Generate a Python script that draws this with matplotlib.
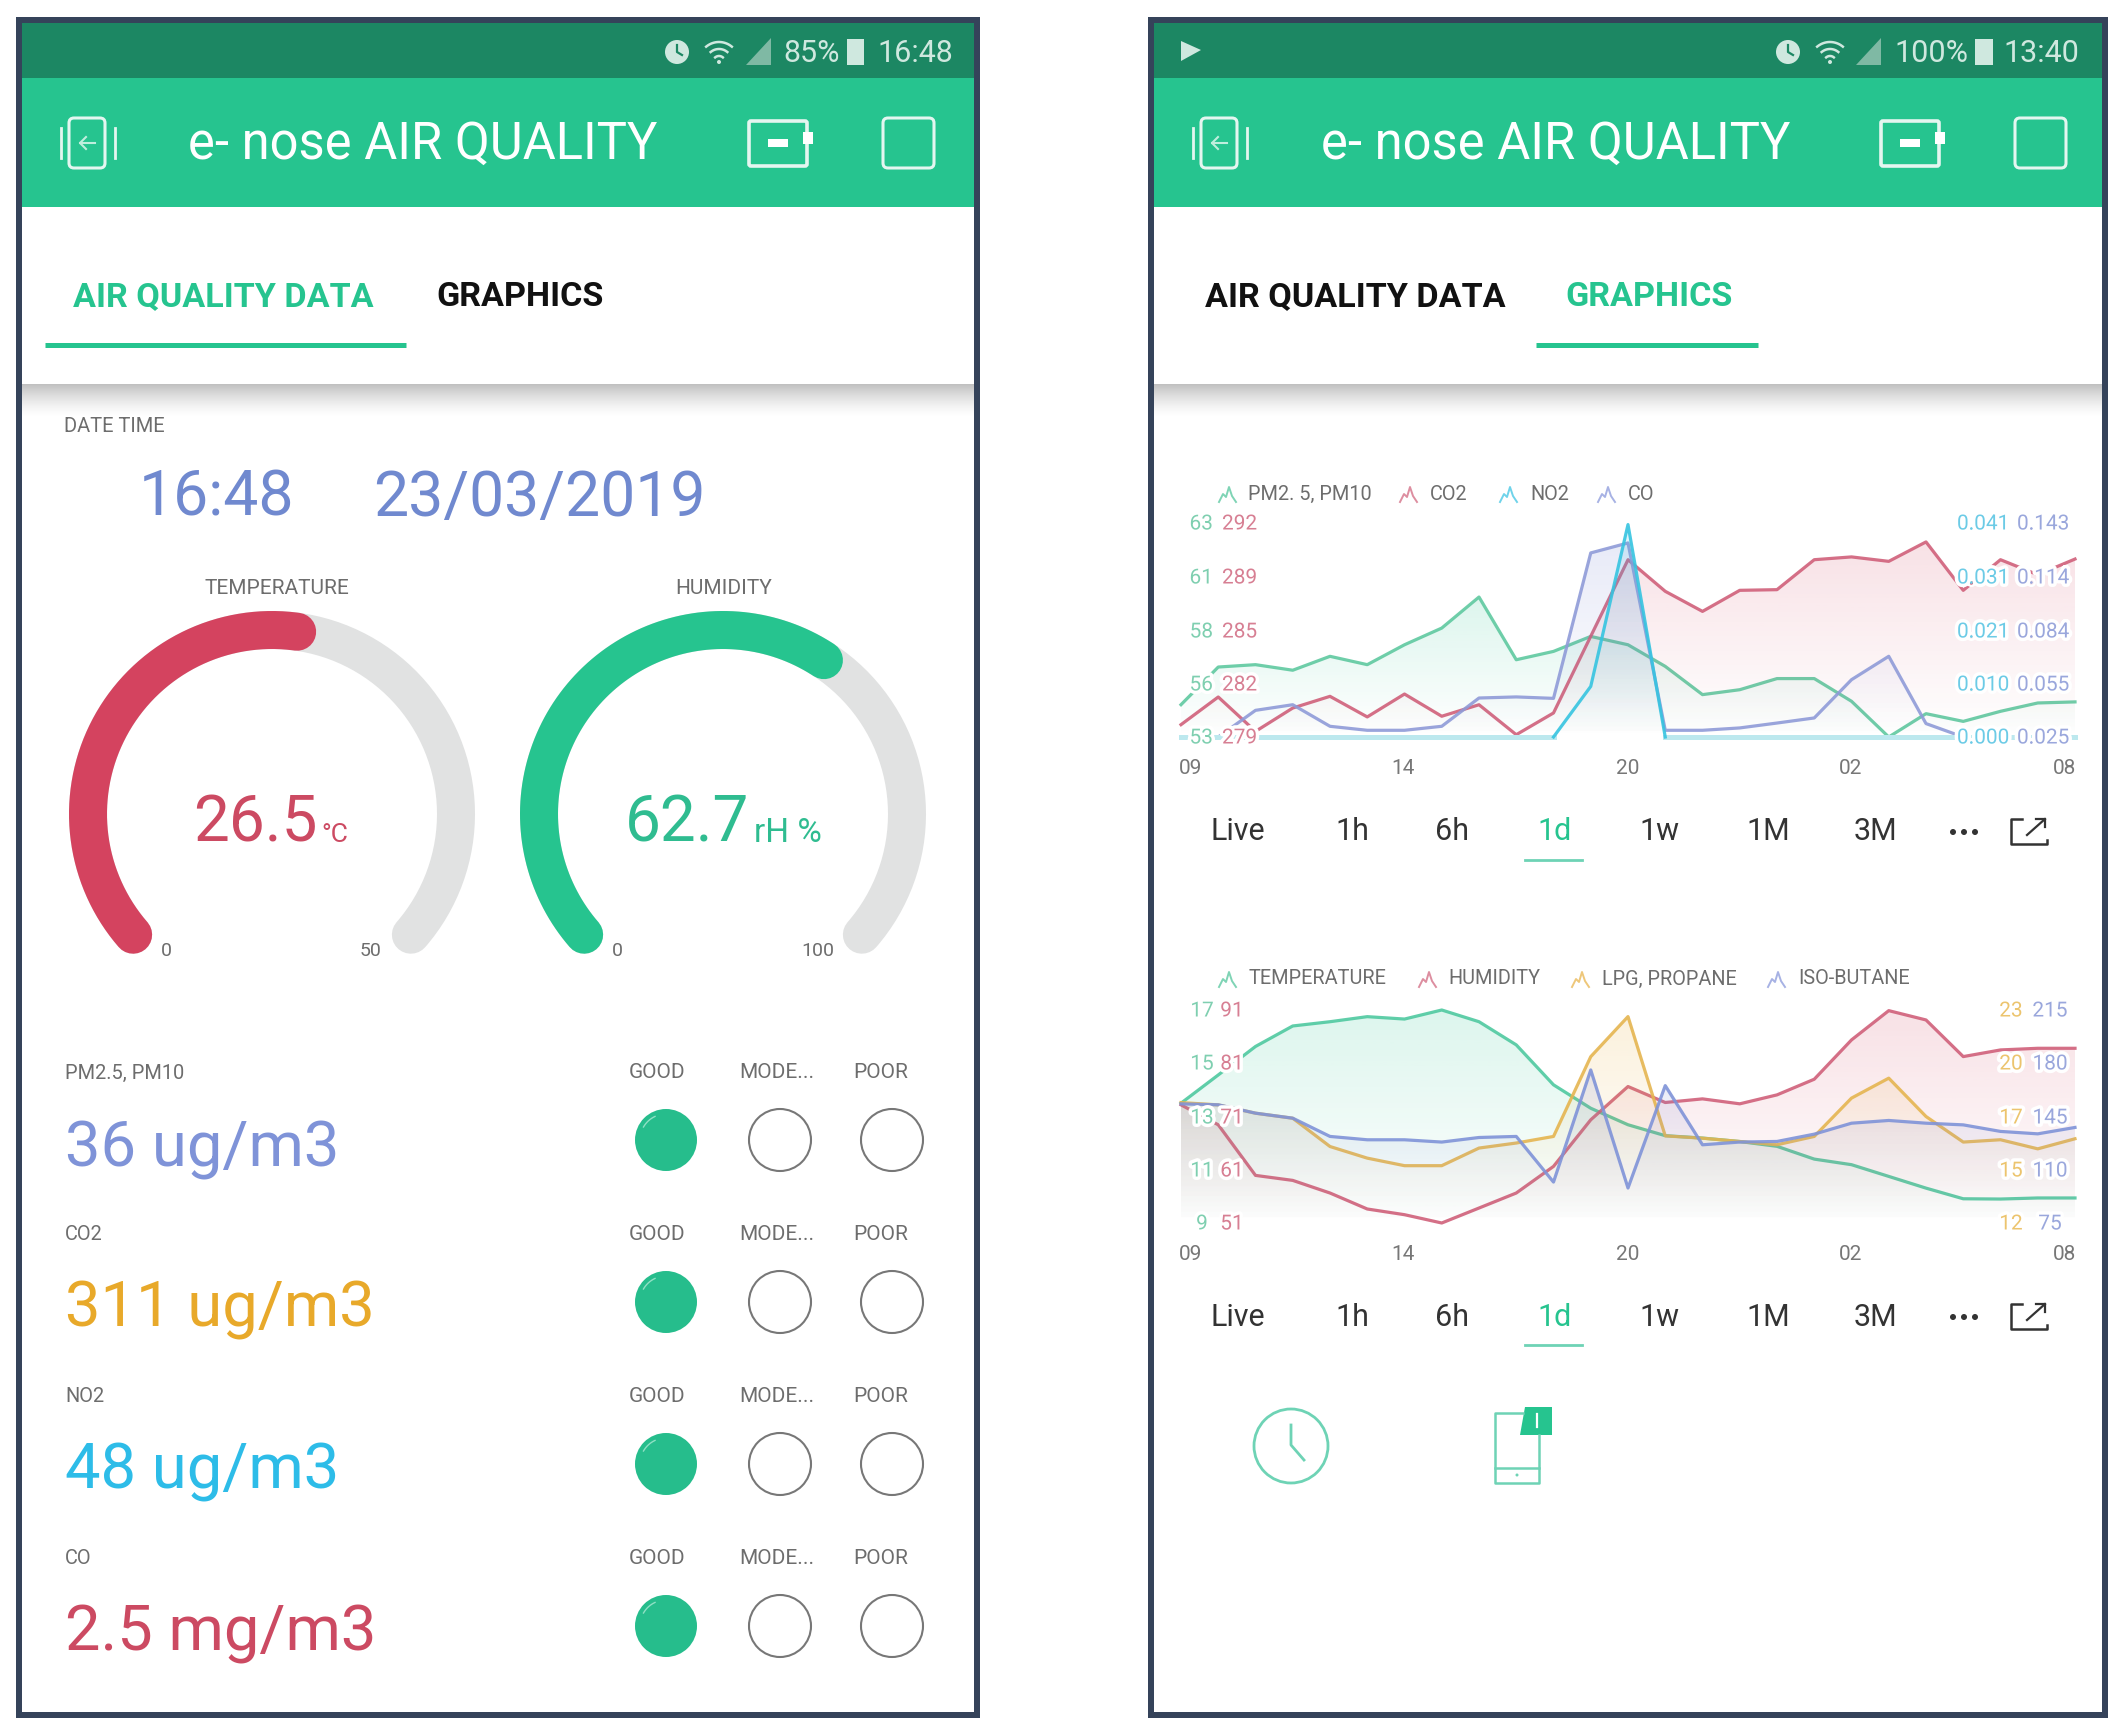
import numpy as np
import matplotlib
matplotlib.use('Agg')
import matplotlib.pyplot as plt
import matplotlib.patheffects as pe
from matplotlib.patches import Rectangle, Circle, FancyBboxPatch, Polygon
from matplotlib.colors import to_rgb

# first chart, one scale per series
hours = np.arange(25)
pm = [54.51, 56.27, 56.38, 56.12, 56.77, 56.38, 57.31, 58.09, 59.54, 56.61, 57.0, 57.7, 57.31,
      56.3, 54.98, 55.21, 55.73, 55.73, 54.67, 53.0, 54.09, 53.73, 54.2, 54.59, 54.64]
co2 = [279.75, 281.43, 279.34, 280.76, 281.47, 280.22, 281.61, 280.26, 280.96, 279.14, 280.46, 285.12, 289.77,
       287.85, 286.63, 287.91, 287.95, 289.77, 289.94, 289.67, 290.85, 287.91, 289.77, 288.86, 289.81]
no2 = [0, 0, 0, 0, 0, 0, 0, 0, 0, 0, 0, 0.0097, 0.0407, 0, 0, 0, 0, 0, 0, 0, 0, 0, 0, 0, 0]
co = [0.025, 0.025, 0.0397, 0.0428, 0.0309, 0.0287, 0.0287, 0.0309, 0.0465, 0.0471, 0.0463, 0.1265, 0.132,
      0.0287, 0.0287, 0.030, 0.0327, 0.0355, 0.0566, 0.0695, 0.0324, 0.025, 0.025, 0.025, 0.025]

# second chart
temperature = [13.5, 14.56, 15.63, 16.4, 16.56, 16.75, 16.66, 17.0, 16.56, 15.69, 14.19, 13.31, 12.69,
               12.28, 12.19, 12.06, 11.88, 11.4, 11.19, 10.75, 10.31, 9.91, 9.9, 9.94, 9.94]
humidity = [73.19, 69.44, 59.94, 59.0, 56.63, 53.63, 52.56, 51.0, 53.81, 56.63, 61.63, 70.38, 76.63,
            73.63, 74.31, 73.38, 75.06, 78.0, 85.38, 90.88, 89.13, 82.25, 83.5, 83.81, 83.81]
lpg = [18.22, 18.1, 17.67, 17.41, 15.95, 15.35, 14.96, 14.96, 15.87, 16.13, 16.47, 20.59, 22.66,
       16.5, 16.38, 16.21, 16.04, 16.47, 18.45, 19.48, 17.5, 16.18, 16.3, 15.83, 16.35]
isobutane = [153.3, 152.7, 147.2, 143.9, 131.9, 129.7, 129.7, 128.2, 131.2, 131.9, 101.9, 175.6, 98.0,
             165.3, 126.4, 128.2, 128.6, 133.4, 140.6, 142.4, 140.6, 139.5, 135.2, 133.6, 137.8]

time_ticks = ['09', '14', '20', '02', '08']
ranges = ['Live', '1h', '6h', '1d', '1w', '1M', '3M']
pm_labels = ['63', '61', '58', '56', '53']
co2_labels = ['292', '289', '285', '282', '279']
no2_labels = ['0.041', '0.031', '0.021', '0.010', '0.000']
co_labels = ['0.143', '0.114', '0.084', '0.055', '0.025']
temp_labels = ['17', '15', '13', '11', '9']
hum_labels = ['91', '81', '71', '61', '51']
lpg_labels = ['23', '20', '17', '15', '12']
iso_labels = ['215', '180', '145', '110', '75']

temp_value, temp_max = 26.5, 50
hum_value, hum_max = 62.7, 100
sensors = ['PM2.5, PM10', 'CO2', 'NO2', 'CO']
readings = ['36 ug/m3', '311 ug/m3', '48 ug/m3', '2.5 mg/m3']

GREEN = '#26c48f'
DARK_GREEN = '#1c8763'
RED = '#d4435f'
BLUE = '#7f93d8'
CYAN = '#2dbce8'
YELLOW = '#e8a92a'
FRAME = '#35435a'
W, H = 2124, 1732

plt.rcParams['font.family'] = ['Roboto', 'DejaVu Sans']

fig = plt.figure(figsize=(W / 100, H / 100), dpi=100, facecolor='white')
bg = fig.add_axes([0, 0, 1, 1], zorder=0)
top = fig.add_axes([0, 0, 1, 1], zorder=5)
for a in (bg, top):
    a.set_xlim(0, W)
    a.set_ylim(H, 0)
    a.axis('off')
    a.patch.set_alpha(0)


def txt(x, y, s, size, color='#6d6d6d', ha='left', va='center', weight='normal', halo=False):
    if va == 'center':
        y = y + 3
    t = top.text(x, y, s, fontsize=size, color=color, ha=ha, va=va, fontweight=weight)
    if halo:
        t.set_path_effects([pe.withStroke(linewidth=5, foreground='white')])
    return t


def box(x0, y0, x1, y1, color):
    bg.add_patch(Rectangle((x0, y0), x1 - x0, y1 - y0, color=color, lw=0))


def outline(x0, y0, x1, y1, color='#e4f6f0', lw=2.2, pad=5):
    top.add_patch(FancyBboxPatch((x0 + pad, y0 + pad), x1 - x0 - 2 * pad, y1 - y0 - 2 * pad,
                                 boxstyle='round,pad=%d' % pad, fc='none', ec=color, lw=lw))


def phone(x0, x1, active):
    box(x0, 17, x1, 1718, FRAME)
    box(x0 + 6, 23, x1 - 6, 1712, 'white')
    box(x0 + 6, 23, x1 - 6, 78, DARK_GREEN)
    box(x0 + 6, 78, x1 - 6, 207, GREEN)
    # shadow under the tab bar
    grad = np.ones((40, 1, 4))
    grad[:, :, :3] = 0.62
    grad[:, 0, 3] = np.linspace(0.75, 0, 40) ** 1.5
    bg.imshow(grad, extent=(x0 + 6, x1 - 6, 418, 384), aspect='auto', zorder=2)
    bg.set_xlim(0, W)
    bg.set_ylim(H, 0)

    left = x0 + 6
    outline(left + 47, 118, left + 83, 168)
    top.plot([left + 39, left + 39], [128, 158], color='#e4f6f0', lw=2)
    top.plot([left + 93, left + 93], [128, 158], color='#e4f6f0', lw=2)
    top.plot([left + 58, left + 73], [143, 143], color='#bfeedd', lw=1.5)
    top.plot([left + 64, left + 58, left + 64], [137, 143, 149], color='#bfeedd', lw=1.5)
    outline(left + 727, 121, left + 785, 166, lw=2.6, pad=2)
    top.add_patch(Rectangle((left + 746, 139), 20, 8, color='white', lw=0))
    top.add_patch(Rectangle((left + 781, 132), 10, 12, color='white', lw=0))
    outline(left + 861, 118, left + 912, 168)

    tabs = [('AIR QUALITY DATA', left + 51), ('GRAPHICS', left + 414 if active == 0 else left + 411)]
    for i, (name, x) in enumerate(tabs):
        txt(x, 294, name, 24.6, GREEN if i == active else '#111111', weight='bold')


def gauge(cx, value, vmax, color):
    cy, r, start, sweep = 814, 184, 221, 262
    ang = np.radians(start - sweep * np.linspace(0, 1, 200))
    bg.plot(cx + r * np.cos(ang), cy - r * np.sin(ang), color='#e1e2e2', lw=38 * 0.72,
            solid_capstyle='round', zorder=3)
    ang = np.radians(start - sweep * value / vmax * np.linspace(0, 1, 200))
    bg.plot(cx + r * np.cos(ang), cy - r * np.sin(ang), color=color, lw=38 * 0.72,
            solid_capstyle='round', zorder=4)


def gradient_fill(ax, y, lo, color, alpha):
    y = np.asarray(y)
    grad = np.zeros((100, 1, 4))
    grad[:, :, :3] = to_rgb(color)
    grad[:, 0, 3] = np.linspace(alpha, 0, 100)
    im = ax.imshow(grad, extent=(0, 24, lo, y.max()), aspect='auto', zorder=1)
    verts = np.vstack([np.column_stack([hours, y]), [24, lo], [0, lo]])
    clip = Polygon(verts, closed=True, transform=ax.transData, fc='none', ec='none')
    ax.add_patch(clip)
    im.set_clip_path(clip)


def line_chart(x0, x1, y0, y1, series):
    axes = []
    for vals, lo, hi, color, line_color in series:
        ax = fig.add_axes([x0 / W, 1 - y1 / H, (x1 - x0) / W, (y1 - y0) / H], zorder=2)
        ax.axis('off')
        ax.patch.set_alpha(0)
        gradient_fill(ax, vals, lo, color, 0.16)
        ax.plot(hours, vals, color=line_color, lw=3.2 * 0.72, alpha=0.9, clip_on=False, zorder=3)
        ax.set_xlim(0, 24)
        ax.set_ylim(lo, hi)
        axes.append(ax)
    return axes


def legend_icon(x, y, color):
    top.plot(x + np.array([-9, -5, -2, 1, 4, 8]), y + np.array([9, 1, 4, -6, 3, 9]), color=color, lw=1.4)


def chart_text(y_rows, tick_y, legend_y, legend, columns):
    for x_icon, x_text, name, color in legend:
        legend_icon(x_icon, legend_y, color)
        txt(x_text, legend_y - 2, name, 14.3, '#6d6d6d')
    for x, ha, labels, color in columns:
        for y, s in zip(y_rows, labels):
            txt(x, y - 2, s, 15, color, ha=ha, halo=True)
    for x, s in zip([1191, 1403, 1628, 1851, 2065], time_ticks):
        txt(x, tick_y - 2, s, 15, '#777777', ha='center')


def range_row(y):
    for x, s in zip([1238, 1352, 1452, 1555, 1659, 1768, 1875], ranges):
        txt(x, y - 1, s, 22, GREEN if s == '1d' else '#333333', ha='center')
    bg.plot([1525, 1582], [y + 30, y + 30], color='#6ed3b5', lw=2)
    for dx in (-11, 0, 11):
        top.add_patch(Circle((1964 + dx, y + 2), 3, color='#333333', lw=0))
    top.plot([2022, 2011, 2011, 2047, 2047], [y - 11, y - 11, y + 14, y + 14, y + 10], color='#333333', lw=1.8)
    top.plot([2027, 2045], [y + 5, y - 11], color='#333333', lw=1.6)
    top.plot([2036, 2045, 2045], [y - 11, y - 11, y - 3], color='#333333', lw=1.6)


def status_icons(alarm_x, wifi_x, signal_x):
    c = '#cfe8df'
    top.add_patch(Circle((alarm_x, 52), 12, color=c, lw=0))
    top.plot([alarm_x, alarm_x, alarm_x + 5], [45, 52, 55], color=DARK_GREEN, lw=1.6)
    for r in (6, 13, 20):
        ang = np.radians(np.linspace(50, 130, 20))
        top.plot(wifi_x + r * np.cos(ang), 62 - r * np.sin(ang), color=c, lw=1.8)
    top.add_patch(Circle((wifi_x, 62), 2, color=c, lw=0))
    top.add_patch(Polygon([[signal_x - 13, 65], [signal_x + 12, 65], [signal_x + 12, 38]], color='#7fb9a4', lw=0))


# left phone
phone(16, 980, 0)
bg.plot([45, 406], [344.5, 344.5], color=GREEN, lw=3.6, solid_capstyle='butt')
status_icons(677, 719, 759)
txt(783, 50, '85%', 22, '#cfe8df')
top.add_patch(Rectangle((847, 39), 17, 26, color='#cfe8df', lw=0))
txt(877, 50, '16:48', 22, '#cfe8df')
txt(188, 142, 'e- nose AIR QUALITY', 36.5, 'white')
txt(64, 423, 'DATE TIME', 14.5)
txt(139, 516, '16:48', 45, '#7089cf', va='baseline')
txt(373, 516, '23/03/2019', 45, '#7089cf', va='baseline')

txt(277, 585, 'TEMPERATURE', 15, ha='center')
txt(724, 585, 'HUMIDITY', 15, ha='center')
gauge(272, temp_value, temp_max, RED)
gauge(723, hum_value, hum_max, GREEN)
txt(193, 842, '%.1f' % temp_value, 46, '#cc4a62', va='baseline')
txt(321, 842, '°C', 19, '#cc4a62', va='baseline')
txt(625, 842, '%.1f' % hum_value, 46, '#2fbc90', va='baseline')
txt(754, 842, 'rH %', 24, '#2fbc90', va='baseline')
for x, s in zip([166, 371, 617, 818], ['0', str(temp_max), '0', str(hum_max)]):
    txt(x, 948, s, 14, ha='center')

label_y = [1070, 1232, 1394, 1555]
base_y = [1166, 1327, 1488, 1650]
dot_y = [1140, 1302, 1464, 1626]
value_colors = [BLUE, YELLOW, CYAN, '#cc4a62']
for i in range(4):
    txt(65, label_y[i], sensors[i], 14.4)
    txt(65, base_y[i], readings[i], 45.5, value_colors[i], va='baseline')
    txt(657, label_y[i], 'GOOD', 15, ha='center')
    txt(777, label_y[i], 'MODE...', 15, ha='center')
    txt(881, label_y[i], 'POOR', 15, ha='center')
    bg.add_patch(Circle((666, dot_y[i]), 31, color='#26bd8c', lw=0, zorder=3))
    ang = np.radians(np.linspace(115, 150, 20))
    bg.plot(666 + 26 * np.cos(ang), dot_y[i] - 26 * np.sin(ang), color='#8fe0c4', lw=1.0, zorder=4)
    bg.add_patch(Circle((780, dot_y[i]), 31, fc='white', ec='#777777', lw=1.5, zorder=3))
    bg.add_patch(Circle((892, dot_y[i]), 31, fc='white', ec='#777777', lw=1.5, zorder=3))

# right phone
phone(1148, 2108, 1)
bg.plot([1536, 1758], [344.5, 344.5], color=GREEN, lw=3.6, solid_capstyle='butt')
status_icons(1788, 1830, 1869)
top.add_patch(Polygon([[1181, 41], [1201, 50], [1181, 61]], color='#cfe8df', lw=0))
txt(1894, 50, '100%', 22, '#cfe8df')
top.add_patch(Rectangle((1975, 39), 18, 26, color='#cfe8df', lw=0))
txt(2003, 50, '13:40', 22, '#cfe8df')
txt(1321, 142, 'e- nose AIR QUALITY', 36.5, 'white')

axes1 = line_chart(1181, 2075, 523, 737, [
    (pm, 53, 63, GREEN, '#5fc9a0'),
    (co2, 279, 292, RED, '#d0607a'),
    (co, 0.025, 0.143, '#6f7fd0', '#8f9bd8'),
    (no2, 0, 0.041, CYAN, '#36c4e0'),
])
# flat NO2 runs sit on the chart floor as a pale band
no2_arr = np.array(no2)
flat = no2_arr == 0
near_peak = np.convolve(~flat, [1, 1, 1], mode='same') > 0
axes1[3].lines[0].set_ydata(np.ma.masked_where(~near_peak, no2_arr))
axes1[3].plot(hours, np.ma.masked_where(~flat, no2_arr), color='#bce8ee', lw=5 * 0.72, clip_on=False, zorder=2)

chart_text([523, 577, 631, 684, 737], 768, 493,
           [(1228, 1248, 'PM2. 5, PM10', '#7fd4b5'), (1409, 1430, 'CO2', '#dd8ea0'),
            (1509, 1530, 'NO2', '#6fd3ea'), (1607, 1628, 'CO', '#a7b2e4')],
           [(1213, 'right', pm_labels, '#7fcfb0'), (1222, 'left', co2_labels, '#d77f93'),
            (1957, 'left', no2_labels, '#6ccbe6'), (2017, 'left', co_labels, '#9aa7dc')])
range_row(830)

line_chart(1181, 2075, 1010, 1223, [
    (temperature, 9, 17, GREEN, '#4fc9a0'),
    (humidity, 51, 91, RED, '#d0607a'),
    (lpg, 12, 23, YELLOW, '#e5b550'),
    (isobutane, 75, 215, '#6f7fd0', '#7f93d8'),
])
chart_text([1010, 1063, 1117, 1170, 1223], 1254, 978,
           [(1228, 1249, 'TEMPERATURE', '#7fd4b5'), (1428, 1448, 'HUMIDITY', '#dd8ea0'),
            (1581, 1602, 'LPG, PROPANE', '#eec77a'), (1777, 1798, 'ISO-BUTANE', '#a7b2e4')],
           [(1202, 'center', temp_labels, '#7fcfb0'), (1232, 'center', hum_labels, '#d77f93'),
            (2011, 'center', lpg_labels, '#ecc46e'), (2050, 'center', iso_labels, '#9aa7dc')])
range_row(1315)

# bottom widgets
top.add_patch(Circle((1291, 1446), 37, fc='none', ec='#6ed3b5', lw=2))
top.plot([1291, 1291, 1304], [1425, 1445, 1460], color='#6ed3b5', lw=2)
top.plot([1523, 1495, 1495, 1539, 1539], [1413, 1413, 1483, 1483, 1435], color='#6ed3b5', lw=1.8)
top.plot([1495, 1539], [1468, 1468], color='#6ed3b5', lw=1.8)
top.add_patch(Circle((1517, 1475), 1.5, color='#6ed3b5', lw=0))
top.add_patch(Polygon([[1525, 1407], [1552, 1407], [1552, 1435], [1520, 1435]], color=GREEN, lw=0))
top.plot([1537, 1537], [1414, 1427], color='white', lw=1.6)

fig.savefig('out.png', dpi=100)
